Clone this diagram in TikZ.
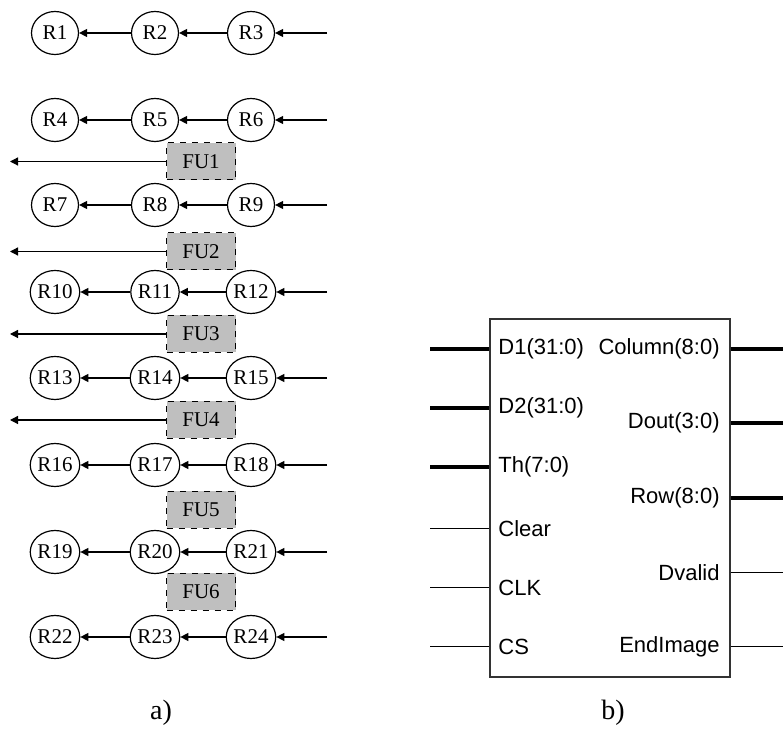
\documentclass[tikz,border=0pt]{standalone}
\usepackage{fontspec}
\setmainfont{Liberation Serif}
\newfontfamily\pinfont{Liberation Sans}
\usetikzlibrary{arrows.meta,shapes.geometric}

\begin{document}
\begin{tikzpicture}[
  x=0.5pt, y=-0.5pt,
  reg/.style={ellipse, draw, line width=0.6pt, minimum width=23.5pt, minimum height=21.5pt,
    inner sep=0pt, font=\fontsize{10.5}{12}\selectfont},
  fu/.style={draw, dashed, line width=0.5pt, fill=gray!50, minimum width=34.5pt,
    minimum height=18.5pt, inner sep=0pt, font=\fontsize{10.5}{12}\selectfont},
  arr/.style={draw, line width=0.6pt, -{Triangle[length=4pt,width=4pt]}},
  bus/.style={draw, line width=2pt},
  sig/.style={draw, line width=0.5pt},
  pin/.style={inner sep=0pt, font=\pinfont\fontsize{11}{13}\selectfont}
]
\useasboundingbox (0,0) rectangle (783,731);

% a) register rows
\node[reg] (R1) at (55,33) {R1};   \node[reg] (R2) at (155,33) {R2};   \node[reg] (R3) at (251,33) {R3};
\node[reg] (R4) at (55,120) {R4};  \node[reg] (R5) at (155,120) {R5};  \node[reg] (R6) at (251,120) {R6};
\node[reg] (R7) at (55,205) {R7};  \node[reg] (R8) at (155,205) {R8};  \node[reg] (R9) at (251,205) {R9};
\node[reg] (R10) at (55,292) {R10}; \node[reg] (R11) at (155,292) {R11}; \node[reg] (R12) at (251,292) {R12};
\node[reg] (R13) at (55,378) {R13}; \node[reg] (R14) at (155,378) {R14}; \node[reg] (R15) at (251,378) {R15};
\node[reg] (R16) at (55,465) {R16}; \node[reg] (R17) at (155,465) {R17}; \node[reg] (R18) at (251,465) {R18};
\node[reg] (R19) at (55,552) {R19}; \node[reg] (R20) at (155,552) {R20}; \node[reg] (R21) at (251,552) {R21};
\node[reg] (R22) at (55,637) {R22}; \node[reg] (R23) at (155,637) {R23}; \node[reg] (R24) at (251,637) {R24};

% functional units
\node[fu] (FU1) at (201,161.5) {FU1};
\node[fu] (FU2) at (201,251.5) {FU2};
\node[fu] (FU3) at (201,334) {FU3};
\node[fu] (FU4) at (201,420) {FU4};
\node[fu] (FU5) at (201,510) {FU5};
\node[fu] (FU6) at (201,592) {FU6};

% free ends
\coordinate (in1) at (327,33);  \coordinate (in2) at (327,120);
\coordinate (in3) at (327,205); \coordinate (in4) at (327,292);
\coordinate (in5) at (327,378); \coordinate (in6) at (327,465);
\coordinate (in7) at (327,552); \coordinate (in8) at (327,637);
\coordinate (out1) at (10,161.5); \coordinate (out2) at (10,251.5);
\coordinate (out3) at (10,334);   \coordinate (out4) at (10,420);

\draw[arr] (in1) -- (R3); \draw[arr] (R3) -- (R2); \draw[arr] (R2) -- (R1);
\draw[arr] (in2) -- (R6); \draw[arr] (R6) -- (R5); \draw[arr] (R5) -- (R4);
\draw[arr] (in3) -- (R9); \draw[arr] (R9) -- (R8); \draw[arr] (R8) -- (R7);
\draw[arr] (in4) -- (R12); \draw[arr] (R12) -- (R11); \draw[arr] (R11) -- (R10);
\draw[arr] (in5) -- (R15); \draw[arr] (R15) -- (R14); \draw[arr] (R14) -- (R13);
\draw[arr] (in6) -- (R18); \draw[arr] (R18) -- (R17); \draw[arr] (R17) -- (R16);
\draw[arr] (in7) -- (R21); \draw[arr] (R21) -- (R20); \draw[arr] (R20) -- (R19);
\draw[arr] (in8) -- (R24); \draw[arr] (R24) -- (R23); \draw[arr] (R23) -- (R22);
\draw[arr] (FU1) -- (out1);
\draw[arr] (FU2) -- (out2);
\draw[arr] (FU3) -- (out3);
\draw[arr] (FU4) -- (out4);

% b) block
\node[draw=black!80, line width=0.6pt, minimum width=120pt, minimum height=179pt, inner sep=0pt]
  (blk) at (610,498) {};

\node[pin, anchor=west] (d1) at (498,349) {D1(31:0)};
\node[pin, anchor=west] (d2) at (498,408) {D2(31:0)};
\node[pin, anchor=west] (th) at (498,467) {Th(7:0)};
\node[pin, anchor=west] (clr) at (498,529) {Clear};
\node[pin, anchor=west] (clk) at (498,588) {CLK};
\node[pin, anchor=west] (cs) at (498,647) {CS};
\node[pin, anchor=east] (col) at (720,349) {Column(8:0)};
\node[pin, anchor=east] (dout) at (720,423) {Dout(3:0)};
\node[pin, anchor=east] (row) at (720,498) {Row(8:0)};
\node[pin, anchor=east] (dv) at (720,573) {Dvalid};
\node[pin, anchor=east] (ei) at (720,647) {EndImage};

\coordinate (pd1) at (430,349); \coordinate (pd2) at (430,408);
\coordinate (pth) at (430,467); \coordinate (pclr) at (430,529);
\coordinate (pclk) at (430,588); \coordinate (pcs) at (430,647);
\coordinate (pcol) at (783,349); \coordinate (pdout) at (783,423);
\coordinate (prow) at (783,498); \coordinate (pdv) at (783,573);
\coordinate (pei) at (783,647);

\draw[bus] (pd1) -- (pd1 -| blk.west);
\draw[bus] (pd2) -- (pd2 -| blk.west);
\draw[bus] (pth) -- (pth -| blk.west);
\draw[sig] (pclr) -- (pclr -| blk.west);
\draw[sig] (pclk) -- (pclk -| blk.west);
\draw[sig] (pcs) -- (pcs -| blk.west);
\draw[bus] (pcol -| blk.east) -- (pcol);
\draw[bus] (pdout -| blk.east) -- (pdout);
\draw[bus] (prow -| blk.east) -- (prow);
\draw[sig] (pdv -| blk.east) -- (pdv);
\draw[sig] (pei -| blk.east) -- (pei);

% captions
\node[font=\fontsize{14}{16}\selectfont] (capa) at (161,713) {a)};
\node[font=\fontsize{14}{16}\selectfont] (capb) at (613,713) {b)};
\end{tikzpicture}
\end{document}
